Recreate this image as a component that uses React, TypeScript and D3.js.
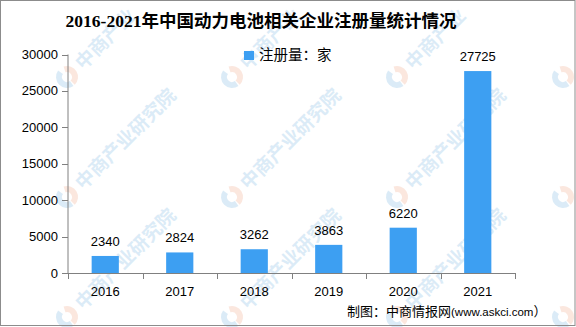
import React, { useEffect } from "react";
import * as d3 from "d3";

const categories = ["2016", "2017", "2018", "2019", "2020", "2021"];
const values = [2340, 2824, 3262, 3863, 6220, 27725];
const yTicks = [0, 5000, 10000, 15000, 20000, 25000, 30000];
const title = "2016-2021年中国动力电池相关企业注册量统计情况";
const legendLabel = "注册量：家";
const sourceCn = "制图：中商情报网";
const sourceUrl = "(www.askci.com";
const sourceEnd = "）";
const wmX = [67, 232, 397, 563];
const wmY = [77, 197, 317];

const W = 576;
const H = 327;
const left = 68;
const right = 515;
const y0 = 273;
const yTop = 54.5;
const numFont = "'Liberation Sans', Arial, sans-serif";
const cjkFont = "'Noto Sans CJK SC', sans-serif";

function Watermark({ x, y }: { x: number; y: number }) {
  const arc = d3.arc<any>();
  const label = x > 540 ? "" : y < 100 ? "中商产业" : "中商产业研究院";
  return (
    <g transform={`translate(${x},${y}) rotate(-45)`} opacity={0.3}>
      <path d={arc({ innerRadius: 5, outerRadius: 11, startAngle: Math.PI * 0.15, endAngle: Math.PI * 1.0 }) || ""} fill="#f3b195" />
      <path d={arc({ innerRadius: 5, outerRadius: 11, startAngle: Math.PI * 1.05, endAngle: Math.PI * 1.95 }) || ""} fill="#8cc0e6" />
      {label && <text x={16} y={7} fontFamily={cjkFont} fontSize={19} fill="#8cc0e6" fontWeight="bold">{label}</text>}
    </g>
  );
}

export default function App() {
  useEffect(() => {
    document.body.style.margin = "0";
  }, []);
  const x = d3.scaleBand<string>().domain(categories).range([left, right]).paddingInner(0.635).paddingOuter(0.3175);
  const xb = d3.scaleBand<string>().domain(categories).range([left, right]);
  const y = d3.scaleLinear().domain([0, 30000]).range([y0, yTop]);
  const barColor = "#3d9ff2";
  return (
    <svg width={W} height={H} style={{ display: "block" }}>
      <rect x={0} y={0} width={W} height={H} fill="#fff" />
      {wmX.map((wx) => wmY.map((wy) => <Watermark key={`${wx}-${wy}`} x={wx} y={wy} />))}
      <rect x={0.5} y={0.5} width={W - 1.5} height={H - 2} fill="none" stroke="#8c8c8c" strokeWidth={1} />
      <text x={261} y={27} textAnchor="middle" fontFamily={`'Liberation Serif', ${cjkFont}`} fontWeight="bold" fontSize={17.5} fill="#000">{title}</text>
      {/* legend */}
      <rect x={244} y={51} width={10} height={9} fill={barColor} />
      <text x={259} y={60} fontFamily={cjkFont} fontSize={14.5} fill="#000">{legendLabel}</text>
      {/* y axis */}
      <line x1={left} x2={left} y1={yTop} y2={y0} stroke="#808080" />
      {yTicks.map((t) => (
        <g key={t}>
          <line x1={left - 6} x2={left} y1={Math.round(y(t)) + 0.5} y2={Math.round(y(t)) + 0.5} stroke="#808080" />
          <text x={58} y={y(t) + 4.5} textAnchor="end" fontFamily={numFont} fontSize={13} fill="#000">{t}</text>
        </g>
      ))}
      {/* bars */}
      {categories.map((c, i) => (
        <g key={c}>
          <rect x={x(c)} y={y(values[i])} width={x.bandwidth()} height={y0 - y(values[i])} fill={barColor} />
          <text x={(x(c) as number) + x.bandwidth() / 2} y={y(values[i]) - 10} textAnchor="middle" fontFamily={numFont} fontSize={13} fill="#000">{values[i]}</text>
          <text x={(xb(c) as number) + xb.bandwidth() / 2} y={296} textAnchor="middle" fontFamily={numFont} fontSize={13} fill="#000">{c}</text>
        </g>
      ))}
      {/* x axis */}
      <line x1={left} x2={right} y1={y0 + 0.5} y2={y0 + 0.5} stroke="#808080" />
      {categories.concat([""]).map((c, i) => {
        const px = Math.round(left + i * xb.step()) + 0.5;
        return <line key={i} x1={px} x2={px} y1={y0} y2={y0 + 6} stroke="#808080" />;
      })}
      <text x={347} y={316} fontFamily={cjkFont} fontSize={13} fill="#000">
        {sourceCn}
        <tspan fontFamily={numFont} fontSize={11.5}>{sourceUrl}</tspan>
        <tspan>{sourceEnd}</tspan>
      </text>
    </svg>
  );
}
